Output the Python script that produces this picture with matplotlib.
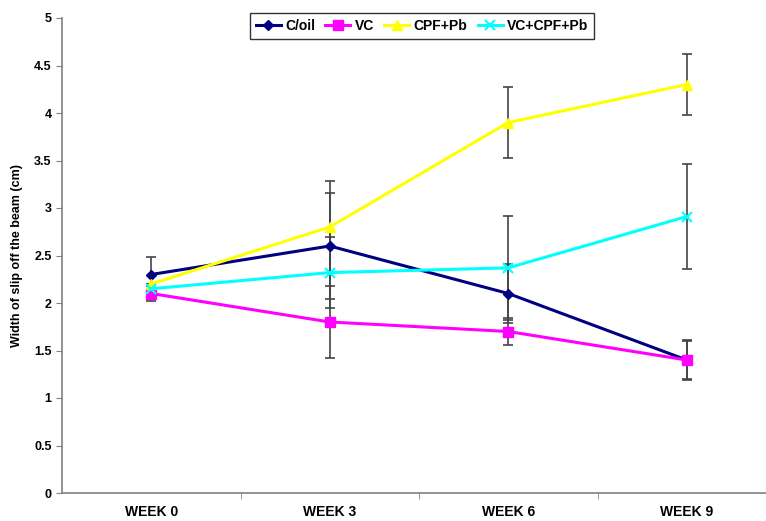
import matplotlib
matplotlib.use("Agg")
import matplotlib.pyplot as plt

categories = ["WEEK 0", "WEEK 3", "WEEK 6", "WEEK 9"]
series_names = ["C/oil", "VC", "CPF+Pb", "VC+CPF+Pb"]
c_oil = [2.3, 2.6, 2.1, 1.4]
vc = [2.1, 1.8, 1.7, 1.4]
cpf_pb = [2.2, 2.8, 3.9, 4.3]
vc_cpf_pb = [2.15, 2.32, 2.37, 2.91]
c_oil_err = [0.18, 0.56, 0.31, 0.21]
vc_err = [0.08, 0.38, 0.14, 0.2]
cpf_pb_err = [0.0, 0.48, 0.37, 0.32]
vc_cpf_pb_err = [0.0, 0.37, 0.55, 0.55]

plt.rcParams['font.family'] = ['Liberation Sans', 'DejaVu Sans']

fig = plt.figure(figsize=(7.66, 5.21), dpi=100)
ax = fig.add_axes([62/766, 28/521, 714/766, 475/521])

x = list(range(len(categories)))
styles = [
    (c_oil, c_oil_err, "#000080", "D", 5),
    (vc, vc_err, "#FF00FF", "s", 7),
    (cpf_pb, cpf_pb_err, "#FFFF00", "^", 7),
    (vc_cpf_pb, vc_cpf_pb_err, "#00FFFF", "x", 7),
]
for (vals, errs, col, mk, ms), name in zip(styles, series_names):
    ax.errorbar(x, vals, yerr=errs, fmt="none", ecolor="#444444",
                elinewidth=1.2, capsize=3.5, capthick=1.2, zorder=1)
    ax.plot(x, vals, color=col, marker=mk, markersize=ms, linewidth=2.2,
            markeredgewidth=1.5 if mk == "x" else 1, label=name, zorder=3)

ax.set_xlim(-0.5, 3.5)
ax.set_ylim(0, 5)
ax.set_yticks([0, 0.5, 1, 1.5, 2, 2.5, 3, 3.5, 4, 4.5, 5])
ax.set_yticklabels(["0", "0.5", "1", "1.5", "2", "2.5", "3", "3.5", "4", "4.5", "5"],
                   fontweight="bold", fontsize=9)
ax.set_xticks(x)
ax.set_xticklabels(categories, fontweight="bold", fontsize=10)
ax.tick_params(axis="x", length=0, pad=9)
ax.set_xticks([0.5, 1.5, 2.5], minor=True)
ax.tick_params(axis="x", which="minor", length=4, direction="out", color="#808080")
ax.tick_params(axis="y", length=4, direction="out", color="#808080")
for s in ["top", "right"]:
    ax.spines[s].set_visible(False)
for s in ["left", "bottom"]:
    ax.spines[s].set_color("#808080")
    ax.spines[s].set_linewidth(1.2)

ax.set_ylabel("Width of slip off the beam (cm)", fontweight="bold", fontsize=9, labelpad=8)

leg = ax.legend(loc="upper center", bbox_to_anchor=(0.504, 1.011), borderaxespad=0,
                ncol=4, frameon=True,
                fancybox=False, edgecolor="black", prop={"weight": "bold", "size": 10},
                handlelength=1.8, columnspacing=0.75, handletextpad=0.3, borderpad=0.45)
leg.get_frame().set_linewidth(1.0)

fig.savefig("out.png", dpi=100)
